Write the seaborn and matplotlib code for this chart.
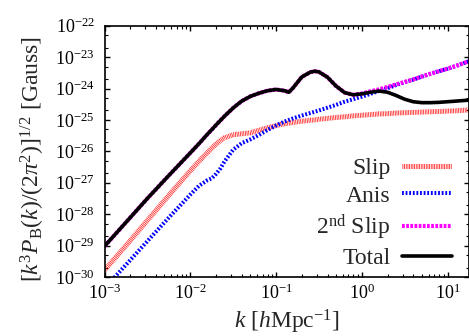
import matplotlib
matplotlib.use('Agg')
import matplotlib.pyplot as plt
import matplotlib.ticker as mticker
import pandas as pd
import seaborn as sns

# wavenumber k [h/Mpc]
k = [1.0e-3, 1.78e-3, 3.16e-3, 5.62e-3, 1.0e-2, 1.26e-2, 1.58e-2, 1.78e-2, 2.0e-2, 2.24e-2,
     2.51e-2, 3.16e-2, 3.98e-2, 5.01e-2, 6.31e-2, 7.94e-2, 0.1, 0.126, 0.141, 0.158,
     0.2, 0.251, 0.282, 0.316, 0.398, 0.501, 0.631, 0.794, 1.0, 1.26,
     1.58, 2.0, 2.51, 3.16, 3.98, 5.01, 6.31, 7.94, 10.0, 12.6, 17.8]

# [k^3 P_B / (2 pi^2)]^(1/2) in Gauss
slip = [1.66e-30, 1.00e-29, 6.31e-29, 3.98e-28, 2.40e-27, 4.79e-27, 9.12e-27, 1.26e-26, 1.70e-26, 2.19e-26,
        2.69e-26, 3.39e-26, 3.63e-26, 3.89e-26, 4.68e-26, 5.62e-26, 6.61e-26, 7.59e-26, 7.94e-26, 8.32e-26,
        9.12e-26, 9.77e-26, 1.00e-25, 1.05e-25, 1.12e-25, 1.20e-25, 1.26e-25, 1.35e-25, 1.41e-25, 1.48e-25,
        1.55e-25, 1.58e-25, 1.66e-25, 1.70e-25, 1.74e-25, 1.78e-25, 1.82e-25, 1.86e-25, 1.91e-25, 1.95e-25, 2.09e-25]

anis = [4.37e-31, 2.45e-30, 1.38e-29, 7.76e-29, 4.17e-28, 7.94e-28, 1.20e-27, 1.38e-27, 1.91e-27, 2.82e-27,
        4.79e-27, 1.12e-26, 1.82e-26, 2.40e-26, 3.31e-26, 4.79e-26, 6.61e-26, 8.91e-26, 1.00e-25, 1.12e-25,
        1.38e-25, 1.66e-25, 1.82e-25, 2.00e-25, 2.45e-25, 3.02e-25, 3.80e-25, 4.57e-25, 5.50e-25, 6.76e-25,
        8.32e-25, 1.02e-24, 1.29e-24, 1.58e-24, 1.91e-24, 2.40e-24, 2.95e-24, 3.55e-24, 4.27e-24, 5.25e-24, 7.41e-24]

slip2 = [9.55e-30, 5.50e-29, 3.16e-28, 1.70e-27, 8.91e-27, 1.74e-26, 3.47e-26, 4.90e-26, 6.92e-26, 9.55e-26,
         1.32e-25, 2.40e-25, 3.98e-25, 5.62e-25, 7.08e-25, 8.51e-25, 9.33e-25, 8.51e-25, 7.59e-25, 1.05e-24,
         2.34e-24, 3.31e-24, 3.55e-24, 3.39e-24, 2.29e-24, 1.20e-24, 7.41e-25, 6.31e-25, 6.92e-25, 8.13e-25,
         9.33e-25, 1.12e-24, 1.35e-24, 1.62e-24, 1.95e-24, 2.40e-24, 2.95e-24, 3.55e-24, 4.27e-24, 5.25e-24, 7.41e-24]

total = [9.55e-30, 5.50e-29, 3.16e-28, 1.70e-27, 8.91e-27, 1.74e-26, 3.47e-26, 4.90e-26, 6.92e-26, 9.55e-26,
         1.32e-25, 2.40e-25, 3.98e-25, 5.62e-25, 7.08e-25, 8.51e-25, 9.33e-25, 8.51e-25, 7.59e-25, 1.05e-24,
         2.34e-24, 3.31e-24, 3.55e-24, 3.39e-24, 2.29e-24, 1.20e-24, 7.41e-25, 6.31e-25, 6.76e-25, 7.59e-25,
         8.32e-25, 7.59e-25, 6.03e-25, 4.57e-25, 3.80e-25, 3.55e-25, 3.55e-25, 3.63e-25, 3.80e-25, 3.98e-25, 4.27e-25]

x_ticks = [1e-3, 1e-2, 1e-1, 1e0, 1e1]
y_ticks = [1e-30, 1e-29, 1e-28, 1e-27, 1e-26, 1e-25, 1e-24, 1e-23, 1e-22]

df = pd.DataFrame({'k': k, 'Slip': slip, 'Anis': anis, '2nd Slip': slip2, 'Total': total})

sns.set_style('ticks')
plt.rcParams['font.family'] = ['Liberation Serif', 'DejaVu Serif']
plt.rcParams['mathtext.fontset'] = 'custom'
plt.rcParams['mathtext.rm'] = 'Liberation Serif'
plt.rcParams['mathtext.it'] = 'Liberation Serif:italic'
plt.rcParams['mathtext.bf'] = 'Liberation Serif:bold'
plt.rcParams['lines.scale_dashes'] = False
plt.rcParams['axes.unicode_minus'] = True

fig = plt.figure(figsize=(4.69, 3.36), dpi=100)
ax = fig.add_axes([104.5 / 469, 59 / 336, 364.5 / 469, 251.3 / 336])

# (column, legend label, colour, width, dash pattern)
styles = [
    ('Slip', 'Slip', '#ff2a2a', 3.6, (0, (0.6, 0.6))),
    ('Anis', 'Anis', '#0000ff', 2.9, (0, (1.3, 1.3))),
    ('2nd Slip', r'2$^{\rm nd}$ Slip', '#ff00ff', 3.0, (0, (2.0, 1.0))),
    ('Total', 'Total', 'black', 2.6, '-'),
]
for col, lab, c, lw, ls in styles:
    sns.lineplot(data=df, x='k', y=col, ax=ax, color=c, linewidth=lw, label=lab)
    ax.lines[-1].set_linestyle(ls)

ax.set_xscale('log')
ax.set_yscale('log')
ax.set_xlim(1e-3, 17.8)
ax.set_ylim(1e-30, 1e-22)

ax.xaxis.set_major_locator(mticker.FixedLocator(x_ticks))
ax.yaxis.set_major_locator(mticker.FixedLocator(y_ticks))
ax.xaxis.set_major_formatter(mticker.LogFormatterSciNotation())
ax.yaxis.set_major_formatter(mticker.LogFormatterSciNotation())
ax.xaxis.set_minor_locator(mticker.LogLocator(base=10, subs=range(2, 10), numticks=20))
ax.yaxis.set_minor_locator(mticker.LogLocator(base=10, subs=(2.0, 5.0), numticks=20))
ax.xaxis.set_minor_formatter(mticker.NullFormatter())
ax.yaxis.set_minor_formatter(mticker.NullFormatter())

ax.tick_params(which='both', direction='in', top=True, right=True, colors='black', labelsize=13)
ax.tick_params(which='major', length=3.6, width=1.0)
ax.tick_params(which='minor', length=2.0, width=0.8)
ax.tick_params(axis='x', pad=5)
ax.tick_params(axis='y', pad=7)
for sp in ax.spines.values():
    sp.set_visible(True)
    sp.set_color('black')
    sp.set_linewidth(1.2)

ax.set_xlabel(r'$k$ [$h$Mpc$^{-1}$]', fontsize=17, va='center')
ax.set_ylabel(r'$[k^3 P_{\rm B}(k)/(2\pi^2)]^{1/2}$ [Gauss]', fontsize=17, va='center')
ax.xaxis.set_label_coords(0.5, -0.18)
ax.yaxis.set_label_coords(-0.196, 0.47)

leg = ax.legend(loc='lower right', bbox_to_anchor=(0.953, 0.03), frameon=False,
                markerfirst=False, fontsize=17, handlelength=2.1, handletextpad=0.5,
                labelspacing=0.25, borderpad=0, borderaxespad=0)
for t in leg.get_texts():
    t.set_ha('right')

fig.savefig('out.png', dpi=100)
